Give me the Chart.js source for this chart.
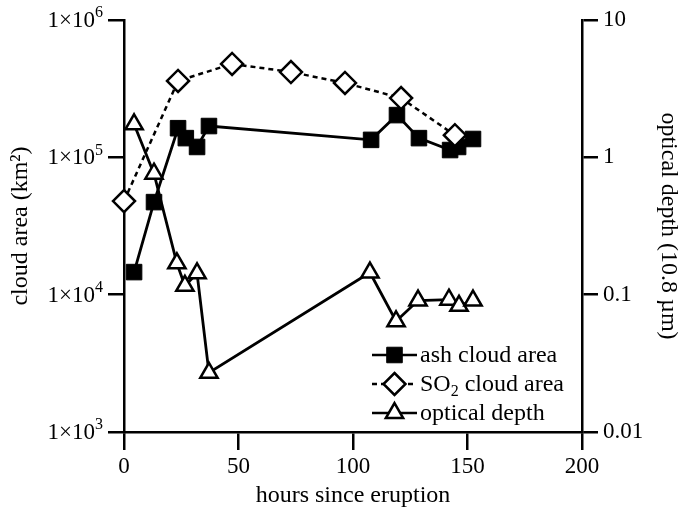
<!DOCTYPE html>
<html>
<head>
<meta charset="utf-8">
<script src="https://cdn.jsdelivr.net/npm/chart.js@4.4.0/dist/chart.umd.min.js"></script>
<style>
  html, body { margin: 0; padding: 0; background: #fff; }
  #wrap { width: 680px; height: 510px; }
</style>
</head>
<body>
<div id="wrap"><canvas id="c" width="680" height="510"></canvas></div>
<script>
// ---- data ----
const ashHours = [4.4, 13.1, 23.6, 27.0, 31.9, 37.1, 107.9, 119.2, 128.8, 142.4, 145.9, 152.4];
const ashArea  = [14600, 47200, 163000, 138000, 119000, 169000, 134000, 203000, 138000, 113000, 119000, 136000];

const so2Hours = [0, 23.6, 47.2, 72.9, 96.5, 121.0, 144.5];
const so2Area  = [48000, 360000, 479000, 418000, 348000, 270000, 145000];

const odHours  = [4.4, 13.1, 23.1, 26.6, 31.9, 37.1, 107.4, 118.8, 128.4, 141.9, 146.3, 152.4];
const odDepth  = [1.74, 0.76, 0.169, 0.116, 0.143, 0.027, 0.145, 0.064, 0.0906, 0.092, 0.083, 0.0906];

const xTicks = [0, 50, 100, 150, 200];
const leftTicks = [1e3, 1e4, 1e5, 1e6];
const leftTickMantissa = '1×10';
const leftTickExponents = ['3', '4', '5', '6'];
const rightTicks = [0.01, 0.1, 1, 10];
const rightTickLabels = ['0.01', '0.1', '1', '10'];

const legendLabels = ['ash cloud area', 'SO2 cloud area', 'optical depth'];

// ---- chart ----
const FAMILY = 'Liberation Serif';
const TICKFONT = { family: FAMILY, size: 23 };
const FONT = { family: FAMILY, size: 24 };
const toPts = (xs, ys) => xs.map((x, i) => ({ x: x, y: ys[i] }));
const LW = 2.5;

const axisGrid = { drawOnChartArea: false, drawTicks: true, tickLength: 16, color: '#000', lineWidth: LW };

function drawMarker(ctx, style, r, x, y) {
  if (style === 'rect') {
    const s = r / Math.SQRT2;
    ctx.rect(x - s, y - s, 2 * s, 2 * s);
  } else if (style === 'rectRot') {
    ctx.moveTo(x, y - r); ctx.lineTo(x + r, y); ctx.lineTo(x, y + r); ctx.lineTo(x - r, y); ctx.closePath();
  } else if (style === 'triangle') {
    const a = 2 * Math.PI / 3;
    ctx.moveTo(x, y - r);
    ctx.lineTo(x + Math.sin(a) * r, y - Math.cos(a) * r);
    ctx.lineTo(x + Math.sin(2 * a) * r, y - Math.cos(2 * a) * r);
    ctx.closePath();
  }
}

// left tick labels with real superscripts
const leftLabelPlugin = {
  id: 'leftLabels',
  afterDraw(chart) {
    const ctx = chart.ctx;
    const sc = chart.scales.y;
    const xr = sc.right - 21;
    ctx.save();
    ctx.fillStyle = '#000';
    ctx.textBaseline = 'middle';
    leftTicks.forEach((v, i) => {
      const y = sc.getPixelForValue(v);
      ctx.font = '16px ' + FAMILY;
      const we = ctx.measureText(leftTickExponents[i]).width;
      ctx.textAlign = 'left';
      ctx.fillText(leftTickExponents[i], xr - we, y - 7);
      ctx.font = TICKFONT.size + 'px ' + FAMILY;
      ctx.textAlign = 'right';
      ctx.fillText(leftTickMantissa, xr - we, y + 1);
    });
    ctx.restore();
  }
};

const legendPlugin = {
  id: 'customLegend',
  afterDraw(chart) {
    const ctx = chart.ctx;
    const ca = chart.chartArea;
    const x0 = ca.left + 248, x1 = x0 + 45, xm = (x0 + x1) / 2, tx = x1 + 3;
    const ys = [ca.top + 335, ca.top + 364, ca.top + 393];
    ctx.save();
    ctx.font = FONT.size + 'px ' + FAMILY;
    ctx.textBaseline = 'middle';
    chart.data.datasets.forEach((ds, i) => {
      const y = ys[i];
      ctx.strokeStyle = '#000';
      ctx.lineWidth = LW;
      ctx.setLineDash(ds.borderDash || []);
      ctx.beginPath(); ctx.moveTo(x0, y); ctx.lineTo(x1, y); ctx.stroke();
      ctx.setLineDash([]);
      ctx.fillStyle = ds.pointBackgroundColor;
      ctx.lineWidth = ds.pointBorderWidth;
      ctx.beginPath();
      drawMarker(ctx, ds.pointStyle, ds.pointRadius, xm, y);
      ctx.fill(); ctx.stroke();
      ctx.fillStyle = '#000';
      ctx.textAlign = 'left';
      const label = legendLabels[i];
      if (label.startsWith('SO2')) {
        ctx.fillText('SO', tx, y + 1);
        const w = ctx.measureText('SO').width;
        ctx.font = '16px ' + FAMILY;
        ctx.fillText('2', tx + w, y + 8);
        const w2 = ctx.measureText('2').width;
        ctx.font = FONT.size + 'px ' + FAMILY;
        ctx.fillText(' cloud area', tx + w + w2, y + 1);
      } else {
        ctx.fillText(label, tx, y + 1);
      }
    });
    ctx.restore();
  }
};

new Chart(document.getElementById('c'), {
  type: 'line',
  data: {
    datasets: [
      {
        label: legendLabels[0], data: toPts(ashHours, ashArea), yAxisID: 'y',
        borderColor: '#000', borderWidth: 2.8, pointStyle: 'rect', pointRadius: 11,
        pointBackgroundColor: '#000', pointBorderColor: '#000', pointBorderWidth: 1,
        clip: false, order: 2
      },
      {
        label: legendLabels[1], data: toPts(so2Hours, so2Area), yAxisID: 'y',
        borderColor: '#000', borderWidth: LW, borderDash: [5, 4], pointStyle: 'rectRot', pointRadius: 11,
        pointBackgroundColor: '#fff', pointBorderColor: '#000', pointBorderWidth: LW,
        clip: false, order: 1
      },
      {
        label: legendLabels[2], data: toPts(odHours, odDepth), yAxisID: 'y2',
        borderColor: '#000', borderWidth: 2.8, pointStyle: 'triangle', pointRadius: 10,
        pointBackgroundColor: '#fff', pointBorderColor: '#000', pointBorderWidth: LW,
        clip: false, order: 0
      }
    ]
  },
  options: {
    responsive: false,
    animation: false,
    events: [],
    layout: { padding: { top: 20, left: 0, right: 0, bottom: 0 } },
    plugins: { legend: { display: false }, tooltip: { enabled: false } },
    scales: {
      x: {
        type: 'linear', position: 'bottom', min: 0, max: 200,
        afterBuildTicks: s => { s.ticks = xTicks.map(v => ({ value: v })); },
        afterFit: s => { s.height = 78; },
        grid: Object.assign({}, axisGrid, { tickLength: 18 }),
        border: { display: true, color: '#000', width: LW },
        ticks: { font: TICKFONT, color: '#000', padding: 3, maxRotation: 0 },
        title: { display: true, text: 'hours since eruption', font: FONT, color: '#000', padding: { top: 2, bottom: 0 } }
      },
      y: {
        type: 'logarithmic', position: 'left', min: 1e3, max: 1e6,
        afterBuildTicks: s => { s.ticks = leftTicks.map(v => ({ value: v })); },
        afterFit: s => { s.width = 124; },
        grid: axisGrid,
        border: { display: true, color: '#000', width: LW },
        ticks: { display: false },
        title: { display: true, text: 'cloud area (km²)', font: FONT, color: '#000', padding: { top: 6, bottom: 0 } }
      },
      y2: {
        type: 'logarithmic', position: 'right', min: 0.01, max: 10,
        afterBuildTicks: s => { s.ticks = rightTicks.map(v => ({ value: v })); },
        afterFit: s => { s.width = 98; },
        grid: axisGrid,
        border: { display: true, color: '#000', width: LW },
        ticks: { font: TICKFONT, color: '#000', padding: 5,
          callback: (v) => rightTickLabels[rightTicks.indexOf(v)] },
        title: { display: true, text: 'optical depth (10.8 µm)', font: FONT, color: '#000', padding: { top: -3, bottom: 0 } }
      }
    }
  },
  plugins: [leftLabelPlugin, legendPlugin]
});
</script>
</body>
</html>
